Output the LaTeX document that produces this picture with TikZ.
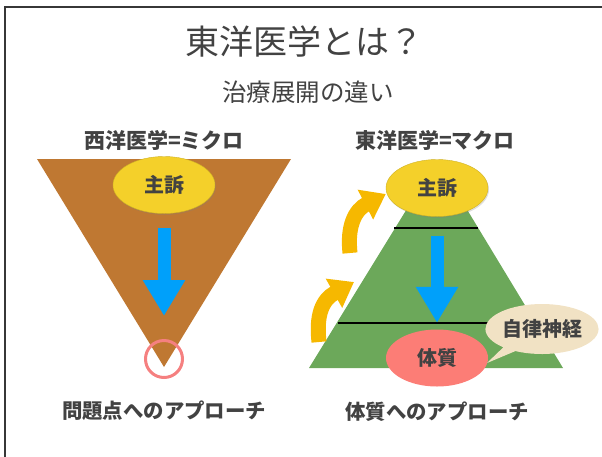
\documentclass[tikz,border=0pt]{standalone}
\usepackage{fontspec}
\setmainfont{Noto Sans CJK JP}
\usetikzlibrary{shapes.geometric,shapes.callouts,arrows.meta,shadows}

\definecolor{textgray}{RGB}{66,66,66}
\definecolor{framegray}{RGB}{55,55,55}
\definecolor{microbrown}{RGB}{191,120,50}
\definecolor{macrogreen}{RGB}{108,168,90}
\definecolor{complaintyellow}{RGB}{244,208,42}
\definecolor{flowblue}{RGB}{0,160,250}
\definecolor{bodyred}{RGB}{252,125,118}
\definecolor{ringred}{RGB}{245,128,128}
\definecolor{nervebeige}{RGB}{241,226,196}
\definecolor{liftorange}{RGB}{246,184,0}

\begin{document}
\begin{tikzpicture}[x=1pt,y=-1pt,
  heading/.style={text=textgray,font=\bfseries\fontsize{21}{25}\selectfont},
  caption/.style={text=textgray,font=\bfseries\fontsize{20.4}{24}\selectfont},
  blob/.style={ellipse,minimum width=102pt,minimum height=57pt,inner sep=0pt,
    text=textgray,font=\bfseries\fontsize{20}{24}\selectfont},
  complaint/.style={blob,fill=complaintyellow,draw=complaintyellow!85!black,line width=0.4pt,
    drop shadow={opacity=0.25,shadow xshift=1pt,shadow yshift=-1.5pt}},
  downarrow/.style={flowblue,line width=13pt,-{Triangle[width=40pt,length=36pt]}},
  liftarrow/.style={liftorange,line width=15pt,-{Triangle[width=32pt,length=23pt]}}]
  \useasboundingbox (0,0) rectangle (602,456);

  % slide frame
  \draw[framegray,line width=1.4pt] (5,470) -- (5,7) -- (620,7);

  \node[text=textgray,font=\fontsize{34}{40}\selectfont] (title) at (304,42) {東洋医学とは？};
  \node[text=textgray,font=\fontsize{24.5}{29}\selectfont] (subtitle) at (308,92) {治療展開の違い};

  \node[heading] (micro) at (164,140) {西洋医学=ミクロ};
  \node[heading] (macro) at (435,140) {東洋医学=マクロ};

  % left: inverted triangle
  \fill[microbrown] (37,159) -- (291,159) -- (164,367) -- cycle;
  \node[complaint] (lcomp) at (164,185) {主訴};
  \node[circle,draw=ringred,line width=3pt,minimum size=37pt,inner sep=0pt] (target) at (164,359) {};
  \draw[downarrow] ([yshift=-14pt]lcomp.south) -- ([yshift=23pt]target.north);

  % right: pyramid
  \fill[macrogreen] (309,368) -- (563,368) -- (437,160) -- cycle;
  \draw[line width=1.2pt] (394,228) -- (478,228);
  \draw[line width=1.2pt] (338,323) -- (535,323);
  \node[complaint] (rcomp) at (437,188) {主訴};
  \node[blob,fill=bodyred] (rbody) at (437,358) {体質};
  \draw[downarrow] ([yshift=-19pt]rcomp.south) -- ([yshift=6.5pt]rbody.north);

  \node[ellipse callout,fill=nervebeige,callout absolute pointer={(487,363)},
    minimum width=112pt,minimum height=50pt,inner sep=0pt,
    text=textgray,font=\bfseries\fontsize{20}{24}\selectfont] (nerve) at (542,329) {自律神経};

  \coordinate (liftA) at (350,253);
  \coordinate (liftB) at (319,342);
  \coordinate (sideB) at (354,282);
  \draw[liftarrow] (liftA) .. controls (347,226) and (355,210) .. ([yshift=-6pt]rcomp.west);
  \draw[liftarrow] (liftB) .. controls (316,315) and (322,300) .. (sideB);

  \node[caption] (microcap) at (164,411) {問題点へのアプローチ};
  \node[caption] (macrocap) at (437,412) {体質へのアプローチ};
\end{tikzpicture}
\end{document}
